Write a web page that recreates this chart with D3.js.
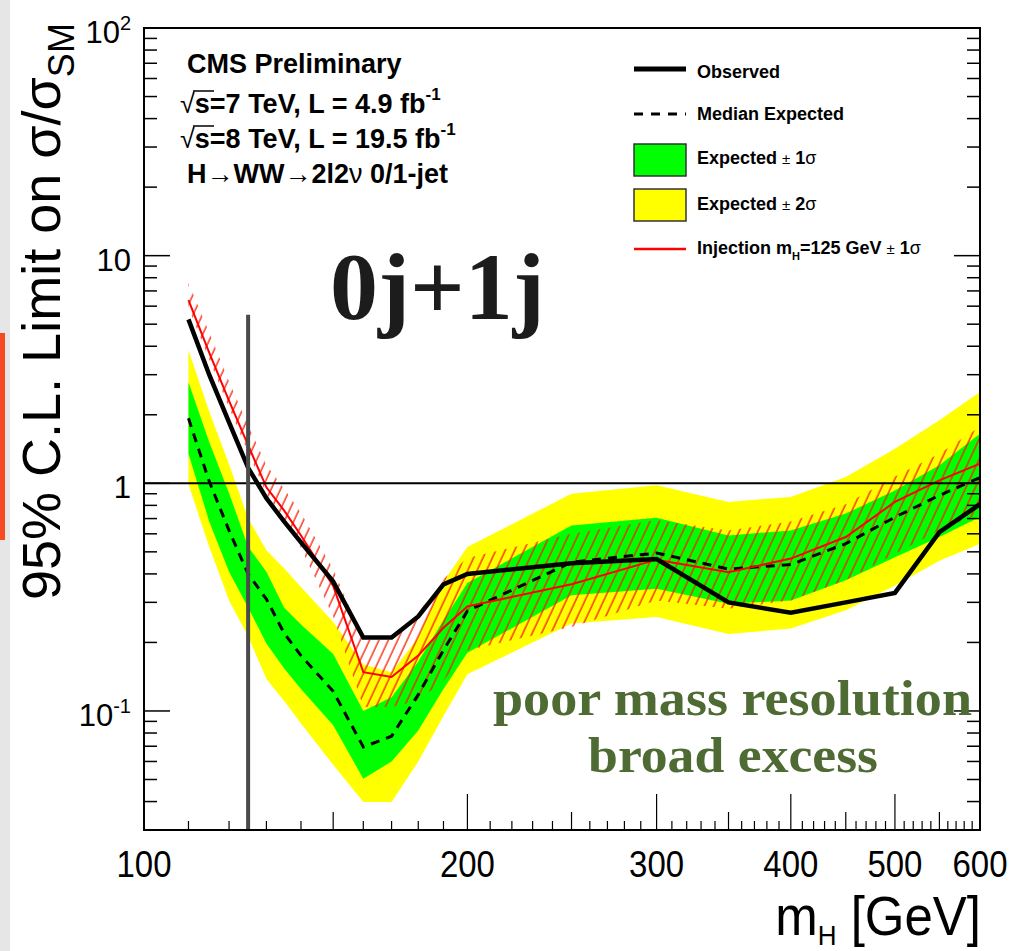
<!DOCTYPE html>
<html>
<head>
<meta charset="utf-8">
<script src="https://cdnjs.cloudflare.com/ajax/libs/d3/7.8.5/d3.min.js"></script>
<style>
  body { margin: 0; background: #fff; }
  svg { display: block; }
  text { font-family: "Liberation Sans", Arial, Helvetica, sans-serif; }
  text.serif { font-family: "Liberation Serif", "Times New Roman", serif; }
</style>
</head>
<body>
<svg id="canvas" width="1012" height="951"></svg>
<script>
// Limit values, one entry per mass point.
let masses = [110, 115, 120, 125, 130, 135, 140, 150, 160, 170, 180, 190, 200, 250, 300, 350, 400, 450, 500, 550, 600];
let observed = [5.25, 3.0, 1.85, 1.17, 0.86, 0.68, 0.55, 0.37, 0.21, 0.21, 0.26, 0.36, 0.40, 0.445, 0.465, 0.30, 0.27, 0.30, 0.33, 0.61, 0.81];
let expMedian = [1.93, 1.02, 0.62, 0.40, 0.31, 0.22, 0.175, 0.122, 0.0695, 0.0775, 0.118, 0.185, 0.275, 0.45, 0.494, 0.42, 0.44, 0.543, 0.71, 0.885, 1.06];
let exp1Up = [2.78, 1.52, 0.905, 0.526, 0.409, 0.285, 0.24, 0.178, 0.10, 0.115, 0.165, 0.25, 0.365, 0.653, 0.706, 0.59, 0.621, 0.736, 0.931, 1.2, 1.65];
let exp1Down = [1.35, 0.68, 0.409, 0.285, 0.198, 0.154, 0.125, 0.0866, 0.0504, 0.06, 0.082, 0.125, 0.18, 0.322, 0.344, 0.296, 0.306, 0.375, 0.473, 0.581, 0.711];
let exp2Up = [3.84, 2.07, 1.21, 0.703, 0.508, 0.424, 0.35, 0.246, 0.16, 0.148, 0.21, 0.37, 0.525, 0.90, 0.98, 0.828, 0.871, 1.066, 1.42, 1.89, 2.52];
let exp2Down = [0.99, 0.526, 0.306, 0.213, 0.138, 0.111, 0.088, 0.058, 0.0398, 0.0398, 0.06, 0.095, 0.145, 0.242, 0.2585, 0.218, 0.23, 0.277, 0.356, 0.457, 0.543];
let injMedian = [6.37, 3.75, 2.3, 1.47, 0.96, 0.76, 0.59, 0.354, 0.148, 0.141, 0.175, 0.232, 0.288, 0.36, 0.462, 0.407, 0.467, 0.581, 0.828, 1.03, 1.22];
let injUp = [7.6, 4.6, 2.8, 1.8, 1.2, 0.95, 0.74, 0.42, 0.205, 0.205, 0.27, 0.38, 0.47, 0.60, 0.69, 0.62, 0.68, 0.81, 1.07, 1.35, 1.77];
let injDown = [5.9, 3.5, 2.15, 1.37, 0.9, 0.7, 0.52, 0.26, 0.104, 0.104, 0.111, 0.136, 0.185, 0.234, 0.306, 0.281, 0.306, 0.375, 0.491, 0.621, 0.736];

// Axis ticks and labels.
let xLabelValues = [100, 200, 300, 400, 500, 600];
let xLongTicks = [200, 300, 400, 500];
let xMidTicks = [150, 250, 350, 450, 550];
let yLabelValues = [100, 10, 1, 0.1];
let yLabelBase = ["10", "10", "1", "10"];
let yLabelExp = ["2", "", "", "-1"];
let markerMass = 125;
let markerTop = 5.5;

let plotLeft = 144, plotRight = 980, plotTop = 28, plotBottom = 830;
let x = d3.scaleLog().domain([100, 600]).range([plotLeft, plotRight]);
let y = d3.scaleLog().domain([0.03, 100]).range([plotBottom, plotTop]);

let rows = masses.map((m, i) => ({
    m: m, obs: observed[i], med: expMedian[i],
    u1: exp1Up[i], d1: exp1Down[i], u2: exp2Up[i], d2: exp2Down[i],
    inj: injMedian[i], iu: injUp[i], id: injDown[i]
}));

let svg = d3.select("#canvas");

// Slide strip at the far left.
svg.append("rect").attr("x", 0).attr("y", 0).attr("width", 10).attr("height", 951).attr("fill", "#e6e6e6");
svg.append("rect").attr("x", 0).attr("y", 333).attr("width", 5).attr("height", 207).attr("fill", "#f64a22");

let defs = svg.append("defs");
defs.append("clipPath").attr("id", "plot-clip")
    .append("rect").attr("x", plotLeft).attr("y", plotTop)
    .attr("width", plotRight - plotLeft).attr("height", plotBottom - plotTop);
let hatch = defs.append("pattern").attr("id", "hatch")
    .attr("patternUnits", "userSpaceOnUse")
    .attr("width", 8.5).attr("height", 8.5)
    .attr("patternTransform", "rotate(25)");
hatch.append("line").attr("x1", 2).attr("x2", 2).attr("y1", -1).attr("y2", 10)
    .attr("stroke", "#ff1a00").attr("stroke-width", 1.3);

let plot = svg.append("g").attr("clip-path", "url(#plot-clip)");

function band(lo, hi) {
    return d3.area().x(d => x(d.m)).y0(d => y(d[lo])).y1(d => y(d[hi]))(rows);
}
function curve(key) {
    return d3.line().x(d => x(d.m)).y(d => y(d[key]))(rows);
}

plot.append("path").attr("d", band("d2", "u2")).attr("fill", "#ffff00");
plot.append("path").attr("d", band("d1", "u1")).attr("fill", "#00ff00");
plot.append("path").attr("d", band("id", "iu")).attr("fill", "url(#hatch)");
plot.append("path").attr("d", curve("med")).attr("fill", "none")
    .attr("stroke", "#000").attr("stroke-width", 3).attr("stroke-dasharray", "9,7");
plot.append("path").attr("d", curve("inj")).attr("fill", "none")
    .attr("stroke", "#ff0000").attr("stroke-width", 2);
plot.append("path").attr("d", curve("obs")).attr("fill", "none")
    .attr("stroke", "#000").attr("stroke-width", 4.5);

// SM line and the 125 GeV marker.
plot.append("line").attr("x1", plotLeft).attr("x2", plotRight).attr("y1", y(1)).attr("y2", y(1))
    .attr("stroke", "#000").attr("stroke-width", 2);
plot.append("line").attr("x1", x(markerMass)).attr("x2", x(markerMass))
    .attr("y1", y(markerTop)).attr("y2", plotBottom)
    .attr("stroke", "#4a4a4a").attr("stroke-width", 4);

// Frame.
svg.append("rect").attr("x", plotLeft).attr("y", plotTop)
    .attr("width", plotRight - plotLeft).attr("height", plotBottom - plotTop)
    .attr("fill", "none").attr("stroke", "#000").attr("stroke-width", 2);

// Y ticks on both sides.
let yTicks = [];
for (let e = -2; e <= 1; e++) {
    for (let k = 1; k <= 9; k++) {
        let v = k * Math.pow(10, e);
        if (v >= 0.03 && v <= 100) yTicks.push({ v: v, major: k === 1 });
    }
}
let axes = svg.append("g").attr("stroke", "#000").attr("stroke-width", 1.5);
yTicks.forEach(t => {
    let len = t.major ? 26 : 13;
    axes.append("line").attr("x1", plotLeft).attr("x2", plotLeft + len).attr("y1", y(t.v)).attr("y2", y(t.v));
    axes.append("line").attr("x1", plotRight).attr("x2", plotRight - len).attr("y1", y(t.v)).attr("y2", y(t.v));
});

// X ticks along the bottom.
let xTicks = [];
for (let m = 110; m < 600; m += 10) xTicks.push(m);
xTicks.forEach(m => {
    let len = xLongTicks.includes(m) ? 36 : (xMidTicks.includes(m) ? 18 : 9);
    axes.append("line").attr("x1", x(m)).attr("x2", x(m)).attr("y1", plotBottom).attr("y2", plotBottom - len)
        .attr("stroke-width", 1.2);
});

// Tick labels.
yLabelValues.forEach((v, i) => {
    let t = svg.append("text").attr("x", 131).attr("y", y(v) + 15)
        .attr("text-anchor", "end").attr("font-size", 31);
    t.append("tspan").text(yLabelBase[i]);
    if (yLabelExp[i]) t.append("tspan").attr("dy", -13).attr("font-size", 20).text(yLabelExp[i]);
});
xLabelValues.forEach(v => {
    svg.append("text").attr("transform", `translate(${x(v)},877) scale(1,1.12)`)
        .attr("text-anchor", "middle").attr("font-size", 33).text(v);
});

// Axis titles.
let xt = svg.append("text").attr("transform", "translate(981,935) scale(1,1.08)")
    .attr("text-anchor", "end").attr("font-size", 51);
xt.append("tspan").text("m");
xt.append("tspan").attr("font-size", 26).attr("dy", 9).text("H");
xt.append("tspan").attr("dy", -9).text(" [GeV]");

let yt = svg.append("text").attr("transform", "translate(60,600) rotate(-90)")
    .attr("font-size", 54);
yt.append("tspan").text("95% C.L. Limit on σ/σ");
yt.append("tspan").attr("font-size", 36).attr("dy", 14).text("SM");

// CMS labels.
let info = svg.append("g").attr("font-weight", "bold").attr("font-size", 27);
info.append("text").attr("x", 187).attr("y", 73).text("CMS Preliminary");
[["7", "4.9", 113], ["8", "19.5", 148]].forEach(r => {
    let t = info.append("text").attr("x", 180).attr("y", r[2]);
    t.append("tspan").attr("font-weight", "normal").text("√");
    t.append("tspan").text(`s=${r[0]} TeV, L = ${r[1]} fb`);
    t.append("tspan").attr("font-size", 17).attr("dy", -13).text("-1");
    info.append("line").attr("x1", 193).attr("x2", 214).attr("y1", r[2] - 22).attr("y2", r[2] - 22)
        .attr("stroke", "#000").attr("stroke-width", 1.5);
});
let ch = info.append("text").attr("x", 187).attr("y", 183);
ch.append("tspan").text("H");
ch.append("tspan").attr("font-weight", "normal").text("→");
ch.append("tspan").text("WW");
ch.append("tspan").attr("font-weight", "normal").text("→");
ch.append("tspan").text("2l2");
ch.append("tspan").attr("font-weight", "normal").text("ν");
ch.append("tspan").text(" 0/1-jet");

svg.append("text").classed("serif", true).attr("x", 330).attr("y", 319)
    .attr("font-weight", "bold").attr("font-size", 96).attr("fill", "#1c1c1c").text("0j+1j");

let note = svg.append("g").attr("font-weight", "bold").attr("font-size", 51).attr("fill", "#4f6b34");
note.append("text").classed("serif", true).attr("x", 493).attr("y", 715)
    .attr("textLength", 479).attr("lengthAdjust", "spacingAndGlyphs").text("poor mass resolution");
note.append("text").classed("serif", true).attr("x", 588).attr("y", 772)
    .attr("textLength", 290).attr("lengthAdjust", "spacingAndGlyphs").text("broad excess");

// Legend.
let lg = svg.append("g").attr("font-size", 18).attr("font-weight", "bold");
lg.append("line").attr("x1", 634).attr("x2", 686).attr("y1", 69).attr("y2", 69)
    .attr("stroke", "#000").attr("stroke-width", 5);
lg.append("text").attr("x", 697).attr("y", 78).text("Observed");
lg.append("line").attr("x1", 634).attr("x2", 686).attr("y1", 114).attr("y2", 114)
    .attr("stroke", "#000").attr("stroke-width", 3).attr("stroke-dasharray", "9,8");
lg.append("text").attr("x", 697).attr("y", 120).text("Median Expected");
lg.append("rect").attr("x", 634).attr("y", 144).attr("width", 52).attr("height", 32)
    .attr("fill", "#00ff00").attr("stroke", "#333").attr("stroke-width", 1.5);
lg.append("rect").attr("x", 634).attr("y", 189).attr("width", 52).attr("height", 32)
    .attr("fill", "#ffff00").attr("stroke", "#333").attr("stroke-width", 1.5);
[["1", 164], ["2", 210]].forEach(r => {
    let t = lg.append("text").attr("x", 697).attr("y", r[1]);
    t.append("tspan").text("Expected ");
    t.append("tspan").attr("font-weight", "normal").attr("font-size", 15).text("±");
    t.append("tspan").text(" " + r[0]);
    t.append("tspan").attr("font-weight", "normal").text("σ");
});
lg.append("line").attr("x1", 634).attr("x2", 686).attr("y1", 249).attr("y2", 249)
    .attr("stroke", "#ff0000").attr("stroke-width", 2.5);
let inj = lg.append("text").attr("x", 697).attr("y", 254);
inj.append("tspan").text("Injection m");
inj.append("tspan").attr("font-size", 11).attr("dy", 6).text("H");
inj.append("tspan").attr("dy", -6).text("=125 GeV ");
inj.append("tspan").attr("font-weight", "normal").attr("font-size", 15).text("±");
inj.append("tspan").text(" 1");
inj.append("tspan").attr("font-weight", "normal").text("σ");
</script>
</body>
</html>
